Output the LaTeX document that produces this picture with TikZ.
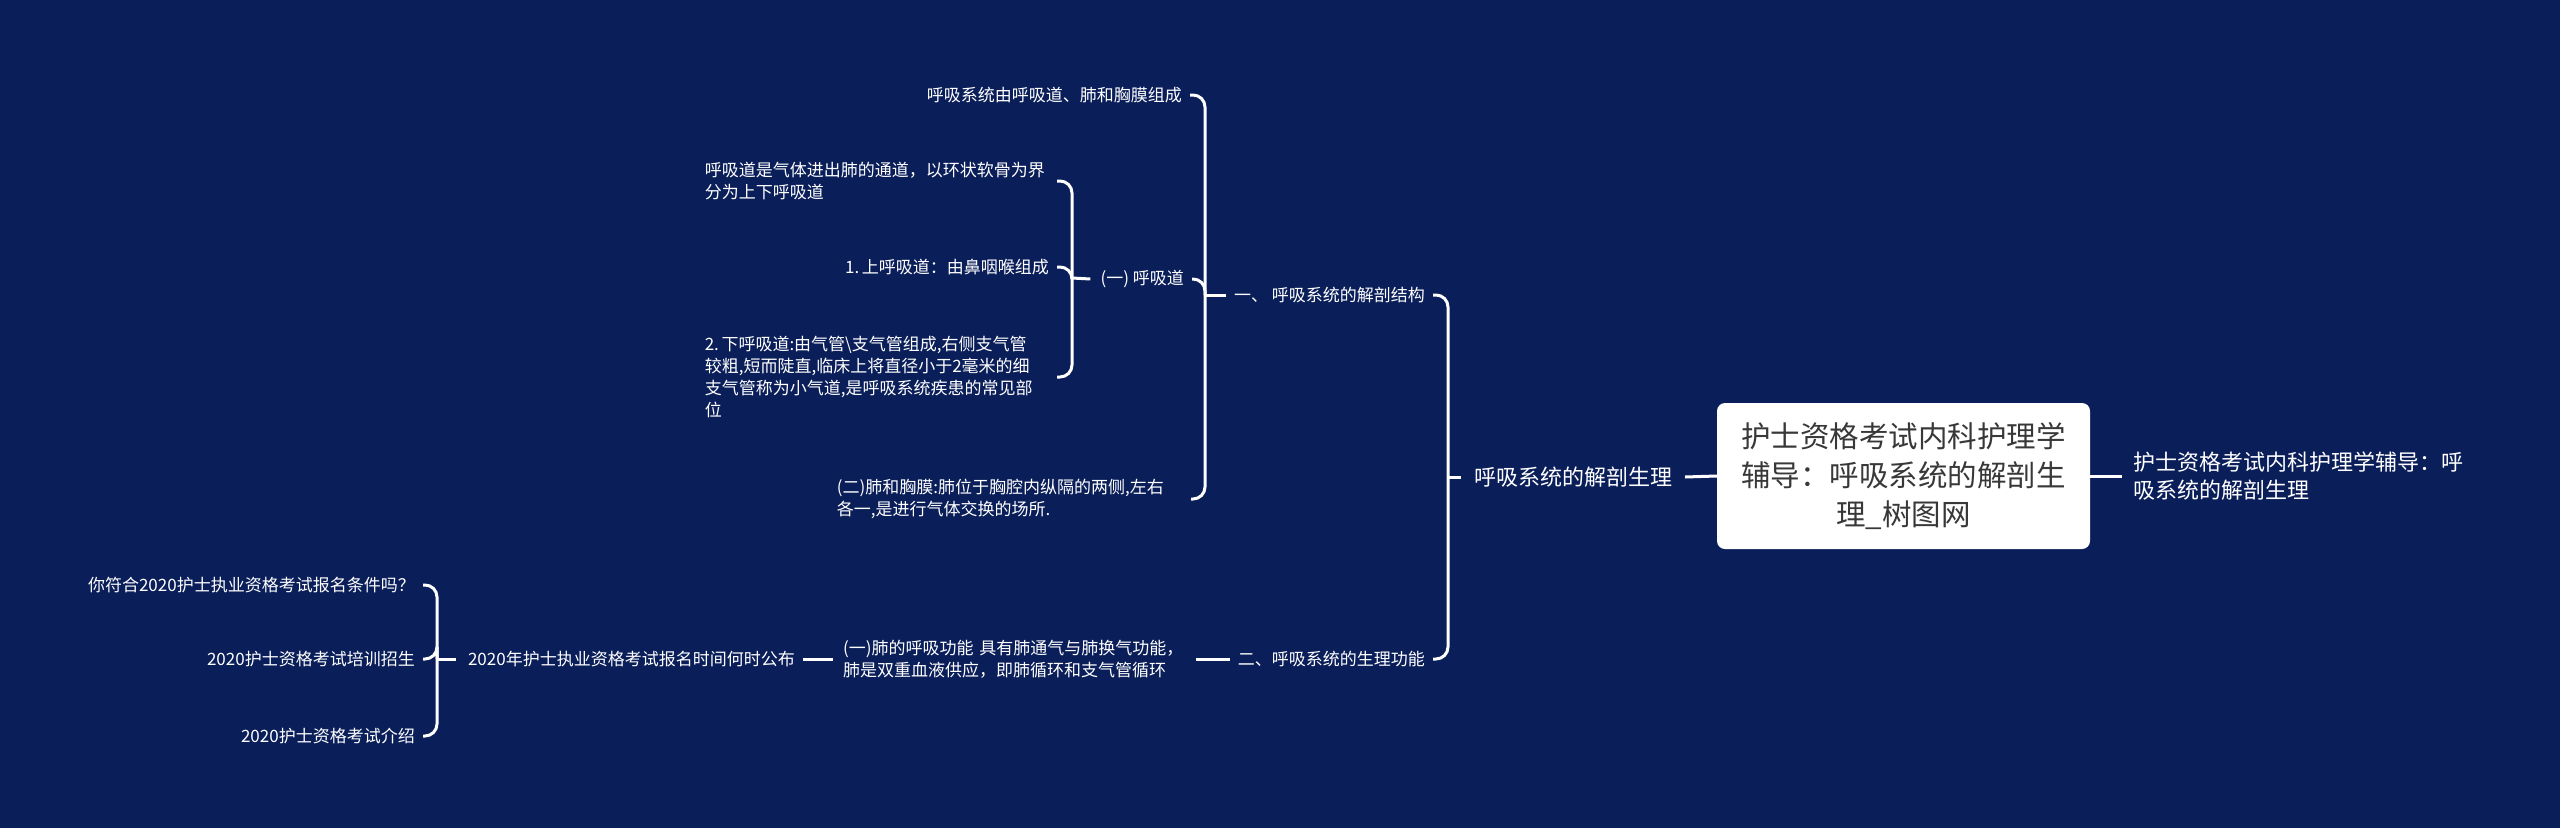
\documentclass[tikz,border=0pt]{standalone}
\usepackage{fontspec}
\newfontfamily\cjk{Noto Sans CJK SC}
\definecolor{bg}{HTML}{0A1E59}
\definecolor{roottext}{HTML}{383838}
\begin{document}
\begin{tikzpicture}[x=1pt,y=-1pt,
  conn/.style={draw=white,line width=3pt,rounded corners=12pt},
  small/.style={text=white,inner sep=0pt,font=\cjk\fontsize{17}{22}\selectfont},
  mid/.style={text=white,inner sep=0pt,font=\cjk\fontsize{22}{28.5}\selectfont},
  rootbox/.style={fill=white,rounded corners=8pt,text=roottext,inner sep=0pt,
    minimum width=373pt,minimum height=146pt,align=center,
    font=\cjk\fontsize{29.5}{39}\selectfont}]
\fill[bg] (0,0) rectangle (2560,828);
\useasboundingbox (0,0) rectangle (2560,828);

% root and right label
\node[rootbox] (root) at (1903.5,476) {护士资格考试内科护理学\\辅导：呼吸系统的解剖生\\理\_树图网};
\node[mid,anchor=west,align=left] (sub) at (2133,476) {护士资格考试内科护理学辅导：呼\\吸系统的解剖生理};
\draw[conn] (root.east) -- ([xshift=-11pt]sub.west);

% level 1
\node[mid,anchor=east] (l1) at (1673,477) {呼吸系统的解剖生理};
\draw[conn] (root.west) -- ([xshift=12pt]l1.east);

% level 2
\node[small,anchor=east] (a1) at (1425,295) {一、 呼吸系统的解剖结构};
\node[small,anchor=east] (a2) at (1425,659) {二、呼吸系统的生理功能};
\coordinate (b0) at (1448,477);
\draw[conn] (b0) -- ([xshift=-14pt]l1.west);
\draw[conn] ([xshift=8pt]a1.east) -- (a1.east -| b0) -- (b0);
\draw[conn] ([xshift=8pt]a2.east) -- (a2.east -| b0) -- (b0);

% level 3 under 一
\node[small,anchor=east] (c1) at (1182,95) {呼吸系统由呼吸道、肺和胸膜组成};
\node[small,anchor=east] (c2) at (1184,279) {(一) 呼吸道};
\node[small,anchor=east,text width=346pt,align=left] (c3) at (1183,499) {(二)肺和胸膜:肺位于胸腔内纵隔的两侧,左右\\各一,是进行气体交换的场所.};
\coordinate (b1) at (1205,295);
\draw[conn] (b1) -- ([xshift=-8pt]a1.west);
\draw[conn] ([xshift=8pt]c1.east) -- (c1.east -| b1) -- (b1);
\draw[conn] ([xshift=8pt]c2.east) -- (c2.east -| b1) -- (b1);
\draw[conn] ([xshift=8pt]c3.east) -- (c3.east -| b1) -- (b1);

% level 4 under (一) 呼吸道
\node[small,anchor=east,text width=344pt,align=left] (d1) at (1049,181) {呼吸道是气体进出肺的通道，以环状软骨为界\\分为上下呼吸道};
\node[small,anchor=east] (d2) at (1049,267) {1.\hspace{0.15em}上呼吸道：由鼻咽喉组成};
\node[small,anchor=east,text width=344pt,align=left] (d3) at (1049,377) {2.\hspace{0.15em}下呼吸道:由气管\textbackslash 支气管组成,右侧支气管\\较粗,短而陡直,临床上将直径小于2毫米的细\\支气管称为小气道,是呼吸系统疾患的常见部\\位};
\coordinate (b2) at (1072,278);
\draw[conn] (b2) -- ([xshift=-10pt]c2.west);
\draw[conn] ([xshift=8pt]d1.east) -- (d1.east -| b2) -- (b2);
\draw[conn] ([xshift=8pt]d2.east) -- (d2.east -| b2) -- (b2);
\draw[conn] ([xshift=8pt]d3.east) -- (d3.east -| b2) -- (b2);

% level 3 under 二
\node[small,anchor=west,text width=345pt,align=left] (f1) at (843,659) {(一)肺的呼吸功能 具有肺通气与肺换气功能，\\肺是双重血液供应，即肺循环和支气管循环};
\draw[conn] ([xshift=8pt]f1.east) -- ([xshift=-8pt]a2.west);

\node[small,anchor=east] (g) at (795,659) {2020年护士执业资格考试报名时间何时公布};
\draw[conn] ([xshift=8pt]g.east) -- ([xshift=-10pt]f1.west);

% leftmost
\node[small,anchor=east] (e1) at (415,585) {你符合2020护士执业资格考试报名条件吗？};
\node[small,anchor=east] (e2) at (415,659) {2020护士资格考试培训招生};
\node[small,anchor=east] (e3) at (415,736) {2020护士资格考试介绍};
\coordinate (b3) at (437,659);
\draw[conn] (b3) -- ([xshift=-12pt]g.west);
\draw[conn] ([xshift=8pt]e1.east) -- (e1.east -| b3) -- (b3);
\draw[conn] ([xshift=8pt]e2.east) -- (e2.east -| b3) -- (b3);
\draw[conn] ([xshift=8pt]e3.east) -- (e3.east -| b3) -- (b3);
\end{tikzpicture}
\end{document}
